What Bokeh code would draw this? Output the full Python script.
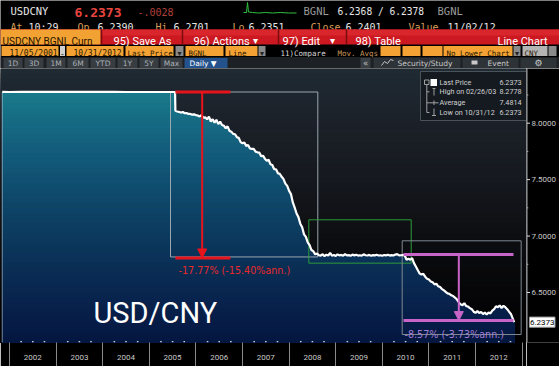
import numpy as np
from bokeh.plotting import figure
from bokeh.models import Range1d, FixedTicker, CustomJSTickFormatter, Arrow, NormalHead
from bokeh.layouts import column, row
from bokeh.embed import file_html
from bokeh.resources import INLINE
from bokeh.core.properties import value

# ---------------- data ----------------
flat_dates = [2001.844, 2002.00, 2002.25, 2002.50, 2002.75, 2003.00, 2003.155, 2003.25, 2003.50, 2003.75,
              2004.00, 2004.25, 2004.50, 2004.75, 2005.00, 2005.25, 2005.50, 2005.553]
flat_prices = [8.2768, 8.2766, 8.2770, 8.2768, 8.2772, 8.2773, 8.2778, 8.2775, 8.2772, 8.2770,
               8.2768, 8.2771, 8.2766, 8.2765, 8.2765, 8.2765, 8.2765, 8.2765]

decline_dates = [2005.56, 2005.60, 2005.64, 2005.68, 2005.72, 2005.76, 2005.80, 2005.84, 2005.88, 2005.92, 2005.96,
                 2006.00, 2006.04, 2006.08, 2006.12, 2006.16, 2006.20, 2006.24, 2006.28, 2006.32, 2006.36,
                 2006.40, 2006.44, 2006.48, 2006.52, 2006.56, 2006.60, 2006.64, 2006.68, 2006.72, 2006.76,
                 2006.80, 2006.84, 2006.88, 2006.92, 2006.96,
                 2007.00, 2007.04, 2007.08, 2007.12, 2007.16, 2007.20, 2007.24, 2007.28, 2007.32, 2007.36,
                 2007.40, 2007.44, 2007.48, 2007.52, 2007.56, 2007.60, 2007.64, 2007.68, 2007.72, 2007.76,
                 2007.80, 2007.84, 2007.88, 2007.92, 2007.96,
                 2008.00, 2008.04, 2008.08, 2008.12, 2008.16, 2008.20, 2008.24, 2008.28, 2008.32, 2008.36,
                 2008.40, 2008.44, 2008.48, 2008.52, 2008.56]
decline_prices = [8.110, 8.104, 8.100, 8.094, 8.099, 8.088, 8.090, 8.082, 8.082, 8.076, 8.078,
                  8.072, 8.068, 8.060, 8.070, 8.048, 8.052, 8.034, 8.058, 8.015, 8.036,
                  8.004, 8.030, 7.992, 8.014, 7.984, 7.978, 7.955, 7.972, 7.932, 7.925,
                  7.905, 7.902, 7.876, 7.870, 7.832,
                  7.822, 7.830, 7.798, 7.806, 7.776, 7.772, 7.772, 7.748, 7.742, 7.740,
                  7.708, 7.712, 7.686, 7.668, 7.676, 7.636, 7.630, 7.592, 7.592, 7.556,
                  7.552, 7.525, 7.505, 7.465, 7.445,
                  7.400, 7.372, 7.298, 7.252, 7.200, 7.168, 7.110, 7.078, 7.015, 6.992,
                  6.945, 6.920, 6.876, 6.866, 6.838]

peg_dates = [2008.60, 2008.64, 2008.68, 2008.72, 2008.76, 2008.80, 2008.84, 2008.88, 2008.92, 2008.96,
             2009.00, 2009.04, 2009.08, 2009.12, 2009.16, 2009.20, 2009.24, 2009.28, 2009.32, 2009.36,
             2009.40, 2009.44, 2009.48, 2009.52, 2009.56, 2009.60, 2009.64, 2009.68, 2009.72, 2009.76,
             2009.80, 2009.84, 2009.88, 2009.92, 2009.96,
             2010.00, 2010.04, 2010.08, 2010.12, 2010.16, 2010.20, 2010.24, 2010.28, 2010.32, 2010.36,
             2010.40, 2010.44]
peg_prices = [6.845, 6.830, 6.826, 6.840, 6.822, 6.835, 6.828, 6.850, 6.826, 6.832,
              6.824, 6.838, 6.829, 6.833, 6.826, 6.840, 6.828, 6.831, 6.825, 6.836,
              6.829, 6.834, 6.827, 6.830, 6.826, 6.838, 6.830, 6.828, 6.833, 6.826,
              6.831, 6.829, 6.835, 6.828, 6.830,
              6.826, 6.832, 6.829, 6.834, 6.827, 6.831, 6.828, 6.836, 6.840, 6.829,
              6.830, 6.832]

float_dates = [2010.48, 2010.52, 2010.56, 2010.60, 2010.64, 2010.68, 2010.72, 2010.76, 2010.80, 2010.84,
               2010.88, 2010.92, 2010.96,
               2011.00, 2011.04, 2011.08, 2011.12, 2011.16, 2011.20, 2011.24, 2011.28, 2011.32, 2011.36,
               2011.40, 2011.44, 2011.48, 2011.52, 2011.56, 2011.60, 2011.64, 2011.68, 2011.72, 2011.76,
               2011.80, 2011.84, 2011.88, 2011.92, 2011.96,
               2012.00, 2012.04, 2012.08, 2012.12, 2012.16, 2012.20, 2012.24, 2012.28, 2012.32, 2012.36,
               2012.40, 2012.44, 2012.48, 2012.52, 2012.56, 2012.60, 2012.64, 2012.68, 2012.72, 2012.76,
               2012.80, 2012.83]
float_prices = [6.830, 6.790, 6.800, 6.790, 6.805, 6.760, 6.730, 6.700, 6.668, 6.660,
                6.665, 6.640, 6.622,
                6.615, 6.598, 6.590, 6.572, 6.578, 6.555, 6.548, 6.530, 6.520, 6.505,
                6.492, 6.488, 6.475, 6.468, 6.455, 6.440, 6.415, 6.395, 6.388, 6.405,
                6.380, 6.375, 6.362, 6.352, 6.330,
                6.320, 6.335, 6.318, 6.328, 6.308, 6.322, 6.305, 6.322, 6.315, 6.340,
                6.352, 6.378, 6.370, 6.385, 6.362, 6.382, 6.370, 6.352, 6.330, 6.310,
                6.268, 6.2373]

dates = flat_dates + decline_dates + peg_dates + float_dates
prices = flat_prices + decline_prices + peg_prices + float_prices

year_labels = ["2002", "2003", "2004", "2005", "2006", "2007", "2008", "2009", "2010", "2011", "2012"]
year_starts = [2002, 2003, 2004, 2005, 2006, 2007, 2008, 2009, 2010, 2011, 2012, 2013]
price_ticks = [6.5, 7.0, 7.5, 8.0]
price_tick_labels = ["6.5000", "7.0000", "7.5000", "8.0000"]
price_minor = [6.75, 7.25, 7.75, 8.25]

last_price = 6.2373
last_price_label = "6.2373"
legend_labels = ["Last Price", "High on 02/26/03", "Average", "Low on 10/31/12"]
legend_values = ["6.2373", "8.2778", "7.4814", "6.2373"]

box1 = dict(left=2005.455, right=2008.616, top=8.2765, bottom=6.815)
red_move = dict(x0=2005.56, x1=2006.74, xa=2006.135, top=8.2765, bottom=6.806, text="-17.77% (-15.40%ann.)")
green_box = dict(left=2008.423, right=2010.62, top=7.144, bottom=6.760)
box2 = dict(left=2010.427, right=2012.98, top=6.958, bottom=6.128)
mag_move = dict(x0=2010.455, x1=2012.815, xa=2011.642, top=6.8375, bottom=6.2515, text="-8.57% (-3.73%ann.)")

# ---------------- styling ----------------
ROB = "Roboto"
MONO = "DejaVu Sans Mono"
SANS = "DejaVu Sans"


def box(f, l, r, t, b, color, line=None, **kw):
    f.quad(left=[l], right=[r], top=[t], bottom=[b], fill_color=color, line_color=line, **kw)


def txt(f, x, y, s, color, size, font, align="left", bold=False, baseline="alphabetic", **kw):
    f.text(x=[x], y=[y], text=[s], text_color=color, text_font_size=f"{size}px",
           text_font=value(font), text_align=align, text_baseline=baseline,
           text_font_style="bold" if bold else "normal", **kw)


def plain(f):
    f.background_fill_color = "black"
    f.border_fill_color = "black"
    f.outline_line_color = None
    f.grid.visible = False


# ================= header (Bloomberg toolbar) =================
H = figure(width=559, height=68, x_range=Range1d(0, 559), y_range=Range1d(68, 0),
           toolbar_location=None, output_backend="svg", x_axis_location=None, y_axis_location=None,
           min_border=0)
plain(H)

TAN = "#d89c5a"
WH = "#e6e6e6"
# row 1
txt(H, 10, 10.8, "USDCNY", WH, 10.5, MONO)
txt(H, 74, 11.8, "6.2373", "#e8463f", 13, MONO, bold=True)
txt(H, 137, 11.2, "-.0028", "#b0403c", 10, MONO)
H.line(x=[243, 246, 247, 248, 252, 258, 265, 272, 280, 288, 296],
       y=[12, 12, 2, 11.5, 12, 12.5, 12, 12.5, 12, 12.5, 12.5], line_color="#2fbf3f", line_width=1)
txt(H, 303, 10.8, "BGNL", "#9a9a9a", 10.5, MONO)
txt(H, 337, 10.8, "6.2368 / 6.2378", WH, 9.6, MONO)
txt(H, 437, 10.8, "BGNL", "#9a9a9a", 10.5, MONO)
# row 2
for x, s, c in [(10, "At", TAN), (28, "10:29", WH), (77, "Op", TAN), (97, "6.2390", WH),
                (155, "Hi", TAN), (173, "6.2701", WH), (232, "Lo", TAN), (248, "6.2351", WH),
                (310, "Close", TAN), (345, "6.2401", WH), (408, "Value", TAN), (447, "11/02/12", WH)]:
    txt(H, x, 26.5, s, c, 10, MONO)
# row 3 red toolbar
box(H, 0, 559, 29, 44, "#cc1820")
box(H, 0, 559, 29, 35, "#d8262c")
box(H, 0, 100, 29, 44, "#f2a232")
for xs in [101, 182, 278, 346]:
    H.segment(x0=[xs], x1=[xs], y0=[29], y1=[44], line_color="#7a0c10", line_width=1.5)
txt(H, 2, 40.5, "USDCNY BGNL Curn", "#2a1500", 10, ROB)
txt(H, 113, 40.5, "95) Save As", "white", 11, ROB)
txt(H, 193, 40.5, "96) Actions", "white", 11, ROB)
txt(H, 255, 40, "\u25be", "white", 10, SANS, align="center")
txt(H, 282, 40.5, "97) Edit", "white", 11, ROB)
txt(H, 332, 40, "\u25be", "white", 10, SANS, align="center")
txt(H, 355, 40.5, "98) Table", "white", 11, ROB)
txt(H, 547, 40.5, "Line Chart", "white", 11, ROB, align="right")
# row 4 input fields
OR = "#f4a233"
DK = "#2a1800"
GR = "#8a8a8a"
box(H, 1, 58, 45.5, 55.5, OR)
txt(H, 33, 53.3, "11/05/2001", DK, 8, MONO, align="center")
box(H, 59.5, 64.5, 45.5, 55.5, "#d0d0d0")
txt(H, 62, 53.3, "-", DK, 8, MONO, align="center")
box(H, 66, 123, 45.5, 55.5, OR)
txt(H, 97, 53.3, "10/31/2012", DK, 8, MONO, align="center")
box(H, 125, 173, 45.5, 55.5, OR)
txt(H, 127, 53.3, "Last Price", DK, 7.5, MONO)
box(H, 175, 183, 45.5, 55.5, GR)
txt(H, 179, 53, "\u25be", "#222", 8, SANS, align="center")
box(H, 185, 223, 45.5, 55.5, OR)
txt(H, 188, 53.3, "BGNL", DK, 7.5, MONO)
box(H, 225, 257, 45.5, 55.5, OR)
txt(H, 228, 53.3, "Line", DK, 7.5, MONO)
box(H, 258, 265, 45.5, 55.5, GR)
txt(H, 261.5, 53, "\u25be", "#222", 8, SANS, align="center")
txt(H, 280, 53.3, "11)Compare", "#d8d8d8", 7.5, MONO)
txt(H, 337, 53.3, "Mov. Avgs", "#c8965a", 7.5, MONO)
for l, r in [(380, 400), (402, 420), (422, 442)]:
    box(H, l, r, 45.5, 55.5, OR)
box(H, 443, 512, 45.5, 55.5, OR)
txt(H, 446, 53.3, "No Lower Chart", DK, 7.5, MONO)
box(H, 513, 520, 45.5, 55.5, GR)
txt(H, 516.5, 53, "\u25be", "#222", 8, SANS, align="center")
box(H, 522, 547, 45.5, 55.5, "#b4b4b4")
txt(H, 524, 53.3, "CNY", DK, 7.5, MONO)
box(H, 548, 556, 45.5, 55.5, GR)
# row 5 range buttons
box(H, 0, 559, 56.5, 68, "#1d2024")
for s, l, r in [("1D", 3, 22), ("3D", 24, 43), ("1M", 46, 65), ("6M", 67, 88), ("YTD", 90, 115),
                ("1Y", 117, 137), ("5Y", 139, 158), ("Max", 160, 182)]:
    box(H, l, r, 57.5, 67.5, "#383d42")
    txt(H, (l + r) / 2, 62.5, s, "#aab0b6", 7.5, SANS, align="center", baseline="middle")
box(H, 184, 227, 57.5, 67.5, "#23528c")
txt(H, 189, 62.5, "Daily \u25bc", "white", 7.5, SANS, baseline="middle")
box(H, 360, 370, 57.5, 67.5, "#3a3f44")
txt(H, 365, 62.5, "\u00ab", "#c0c0c0", 8.5, SANS, align="center", baseline="middle")
box(H, 373, 460, 57.5, 67.5, "#2e3338")
H.line(x=[381, 384, 387, 390, 393], y=[65, 61, 63, 59, 60], line_color="#c8c8c8", line_width=1)
txt(H, 397, 62.5, "Security/Study", "#c8c8c8", 7.5, SANS, baseline="middle")
box(H, 462, 518, 57.5, 67.5, "#2e3338")
box(H, 471, 477, 60, 64, "#c8c8c8")
txt(H, 487, 62.5, "Event", "#c8c8c8", 7.5, SANS, baseline="middle")
box(H, 520, 556, 57.5, 67.5, "#2e3338")
txt(H, 538, 62.5, "\u2699", "#c8c8c8", 9, SANS, align="center", baseline="middle")

# ================= main chart =================
X0, X1 = 2001.8069, 2013.0944
Y0, Y1 = 6.0570, 8.4846
yr = Range1d(Y0, Y1)
p = figure(width=526, height=298, x_range=Range1d(X0, X1), y_range=yr,
           toolbar_location=None, output_backend="svg", y_axis_location=None,
           min_border_left=0, min_border_top=0, min_border_right=0, min_border_bottom=24)
p.extra_x_ranges = {"px": Range1d(0, 526)}
p.extra_y_ranges = {"px": Range1d(342, 68)}
plain(p)
PX = dict(x_range_name="px", y_range_name="px")


def hex2rgb(h):
    return tuple(int(h[i:i + 2], 16) for i in (1, 3, 5))


def grad(stops, ypx):
    for (p0, c0), (p1, c1) in zip(stops, stops[1:]):
        if p0 <= ypx <= p1:
            t = (ypx - p0) / (p1 - p0)
            a, b = hex2rgb(c0), hex2rgb(c1)
            return "#%02x%02x%02x" % tuple(round(a[k] + (b[k] - a[k]) * t) for k in range(3))
    return stops[-1][1]


UNDER = [(68, "#1c8496"), (100, "#187688"), (150, "#135c7c"), (200, "#0e4769"),
         (250, "#0b3459"), (300, "#08234d"), (342, "#041640")]
ABOVE = [(68, "#1f2a33"), (120, "#1c2129"), (180, "#15181e"), (240, "#0c0d11"),
         (300, "#050507"), (342, "#000000")]

edges = np.linspace(68, 342, 56)
tops_px = edges[:-1]
centers_px = (edges[:-1] + edges[1:]) / 2
tops_v = Y1 - (tops_px - 68) / 274 * (Y1 - Y0)
p.quad(left=X0, right=X1, bottom=Y0, top=tops_v,
       fill_color=[grad(ABOVE, c) for c in centers_px], line_color=None)
dt = np.array(dates)
pr = np.array(prices)
for t, c in zip(tops_v, [grad(UNDER, c) for c in centers_px]):
    p.varea(x=dt, y1=Y0, y2=np.minimum(pr, t), fill_color=c)

# faint left edge of the filled area
p.segment(x0=[dates[0]], x1=[dates[0]], y0=[Y0], y1=[prices[0]], line_color="#cfe6ee",
          line_alpha=0.55, line_width=1)

# boxes
p.quad(left=[box1["left"]], right=[box1["right"]], top=[box1["top"]], bottom=[box1["bottom"]],
       fill_alpha=0, line_color="#9aa6b0", line_width=1)
p.quad(left=[green_box["left"]], right=[green_box["right"]], top=[green_box["top"]],
       bottom=[green_box["bottom"]], fill_alpha=0, line_color="#2e9a3a", line_width=1)
p.quad(left=[box2["left"]], right=[box2["right"]], top=[box2["top"]], bottom=[box2["bottom"]],
       fill_alpha=0, line_color="#7f8890", line_width=1)

# price line
p.line(dates, prices, line_color="white", line_width=2.2)

# red move
RED = "#e8141c"
p.segment(x0=[red_move["x0"]] * 2, x1=[red_move["x1"]] * 2, y0=[red_move["top"], red_move["bottom"]],
          y1=[red_move["top"], red_move["bottom"]], line_color=RED, line_width=3)
p.add_layout(Arrow(x_start=red_move["xa"], y_start=red_move["top"], x_end=red_move["xa"],
                   y_end=red_move["bottom"], line_color=RED, line_width=2,
                   end=NormalHead(size=9, fill_color=RED, line_color=RED)))
txt(p, 178, 270, red_move["text"], "#e82a2a", 9.6, SANS, **PX)

# magenta move
MAG = "#c864c8"
p.segment(x0=[mag_move["x0"]] * 2, x1=[mag_move["x1"]] * 2, y0=[mag_move["top"], mag_move["bottom"]],
          y1=[mag_move["top"], mag_move["bottom"]], line_color=MAG, line_width=3)
p.add_layout(Arrow(x_start=mag_move["xa"], y_start=mag_move["top"], x_end=mag_move["xa"],
                   y_end=mag_move["bottom"], line_color=MAG, line_width=2,
                   end=NormalHead(size=9, fill_color=MAG, line_color=MAG)))
txt(p, 404, 333.5, mag_move["text"], "#a27ed2", 9.6, SANS, **PX)

# big title
txt(p, 93, 312, "USD/CNY", "white", 29, ROB, **PX)

# quarter dots on the time axis
quarters = [y + q for y in year_starts[:-1] for q in (0.25, 0.5, 0.75)]
p.scatter(x=quarters, y=[Y0 + 0.006] * len(quarters), marker="square", size=1.6,
          color="#d0d0d0", line_color=None)

# legend box (Bloomberg style)
box(p, 420, 526, 71, 120, "#151a21", line="#4a525a", **PX)
rows_y = [82, 91.3, 102.3, 112]
for y, lab, val in zip(rows_y, legend_labels, legend_values):
    txt(p, 439, y, lab, "#d0d0d0", 7.2, ROB, baseline="middle", **PX)
    txt(p, 521, y, val, "#d0d0d0", 7.2, ROB, align="right", baseline="middle", **PX)
GRY = "#a0a0a0"
box(p, 424, 428.5, 79.5, 84, None, line=GRY, **PX)
box(p, 430, 436.5, 78.5, 85.5, "white", **PX)
p.segment(x0=[426.3, 426.3, 426.3, 426.3, 432, 433.5, 429, 433.5, 433.5, 431.5],
          x1=[426.3, 429, 429, 429, 435, 433.5, 438, 433.5, 433.5, 435.5],
          y0=[84, 91.3, 102.3, 112, 88, 88, 102.3, 100, 108, 115],
          y1=[112, 91.3, 102.3, 112, 88, 95, 102.3, 104.5, 115, 115],
          line_color=GRY, line_width=1, **PX)

# time axis
xa = p.xaxis[0]
xa.ticker = FixedTicker(ticks=[y + 0.5 for y in year_starts[:-1]], minor_ticks=year_starts)
xa.formatter = CustomJSTickFormatter(args=dict(labels=year_labels),
                                     code="return labels[Math.floor(tick) - 2002] || ''")
xa.major_tick_out = 0
xa.major_tick_in = 0
xa.major_tick_line_color = None
xa.minor_tick_out = 24
xa.minor_tick_in = 0
xa.minor_tick_line_color = "#8a8a8a"
xa.axis_line_color = None
xa.major_label_standoff = -12
xa.major_label_text_font = ROB
xa.major_label_text_font_size = "8px"
xa.major_label_text_color = "#c8c8c8"

# ================= price scale (right strip, shares the y range) =================
S = figure(width=33, height=298, x_range=Range1d(0, 33), y_range=yr,
           toolbar_location=None, output_backend="svg", x_axis_location=None, y_axis_location=None,
           min_border_left=0, min_border_right=0, min_border_top=0, min_border_bottom=24)
plain(S)
S.segment(x0=[0.5], x1=[0.5], y0=[Y0], y1=[Y1], line_color="#a0a4a8", line_width=1)
S.segment(x0=0.5, x1=3.5, y0=price_ticks, y1=price_ticks, line_color="#e0e0e0", line_width=1)
S.segment(x0=0.5, x1=1.8, y0=price_minor, y1=price_minor, line_color="#b0b0b0", line_width=1)
S.text(x=5, y=price_ticks, text=price_tick_labels, text_color="#c8c8c8", text_font_size="8px",
       text_font=value(ROB), text_baseline="middle", text_align="left")
S.quad(left=[3], right=[28.5], top=[last_price + 0.045], bottom=[last_price - 0.045],
       fill_color="white", line_color="#9a9a9a")
S.text(x=[15.75], y=[last_price], text=[last_price_label], text_color="black", text_font_size="8px",
       text_font=value(ROB), text_baseline="middle", text_align="center")

layout = column(H, row(p, S, spacing=0), spacing=0)
open("out.html", "w").write(file_html(layout, INLINE))
